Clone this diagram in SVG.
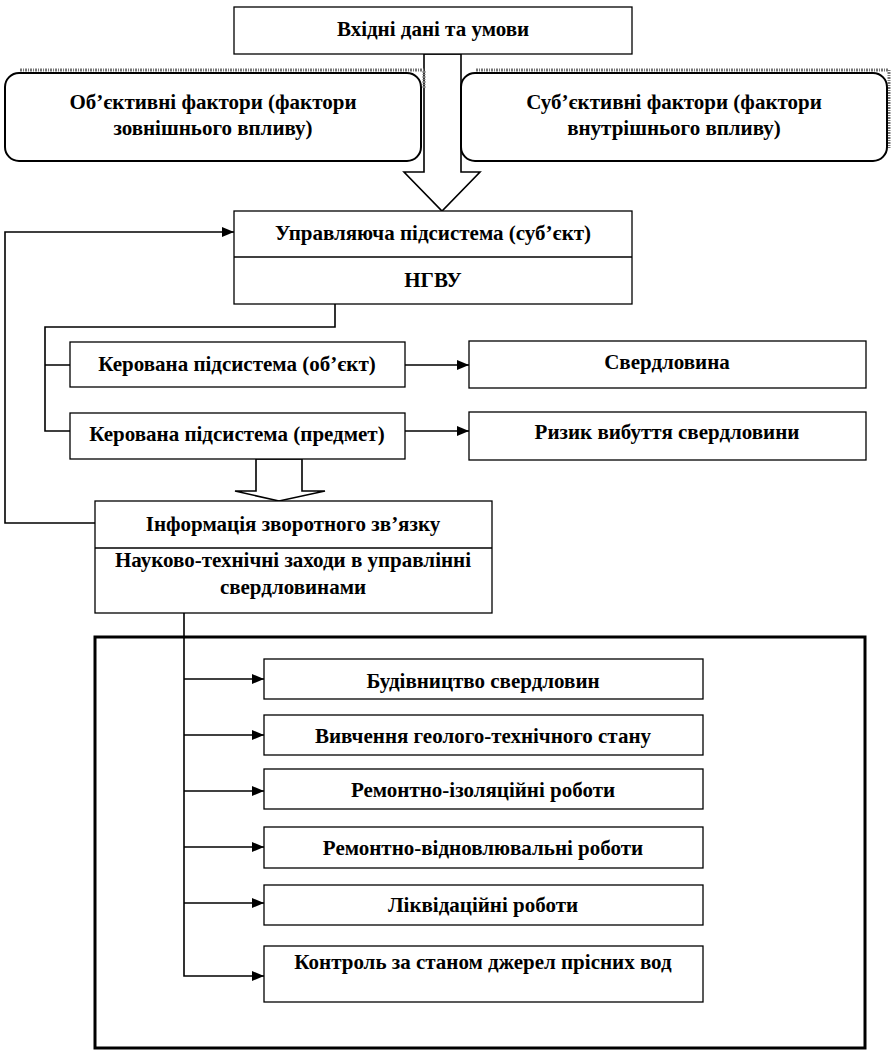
<svg xmlns="http://www.w3.org/2000/svg" width="891" height="1050" viewBox="0 0 891 1050">
<defs>
<marker id="ah" markerWidth="12" markerHeight="10" refX="12" refY="5" orient="auto" markerUnits="userSpaceOnUse">
<path d="M0,0 L12,5 L0,10 Z" fill="#000"/>
</marker>
</defs>
<style>
.box{fill:#fff;stroke:#000;stroke-width:1.3}
.rbox{fill:#fff;stroke:#000;stroke-width:2}
.shadow{fill:none;stroke:#777;stroke-width:3;stroke-dasharray:2 1 1 1}
.ln{fill:none;stroke:#000;stroke-width:1.6}
.frame{fill:none;stroke:#000;stroke-width:3}
.hollow{fill:#fff;stroke:#000;stroke-width:1.6;stroke-linejoin:miter}
text{font-family:"Liberation Serif","Times New Roman",serif;font-size:21px;font-weight:bold;text-anchor:middle;fill:#000}
</style>
<rect width="891" height="1050" fill="#fff"/>

<g id="connectors">
<path class="ln" d="M95,523 H5 V232 H234" marker-end="url(#ah)"/>
<path class="ln" d="M335,304 V327 H45 V431 H70 M45,365 H70"/>
<path class="ln" d="M405,365 H469" marker-end="url(#ah)"/>
<path class="ln" d="M405,431 H469" marker-end="url(#ah)"/>
<path class="ln" d="M184,613 V976 H264" marker-end="url(#ah)"/>
<path class="ln" d="M184,679 H264" marker-end="url(#ah)"/>
<path class="ln" d="M184,735 H264" marker-end="url(#ah)"/>
<path class="ln" d="M184,791 H264" marker-end="url(#ah)"/>
<path class="ln" d="M184,847 H264" marker-end="url(#ah)"/>
<path class="ln" d="M184,903 H264" marker-end="url(#ah)"/>
<polygon class="hollow" points="424,54 461,54 461,172 480,172 442,211 404,172 424,172"/>
<polygon class="hollow" points="256,459 302,459 302,491 325,491 279,501 235,491 256,491"/>
</g>

<g id="n-input">
<rect class="box" x="234" y="7" width="398" height="47"/>
<text x="433" y="36">Вхідні дані та умови</text>
</g>

<g id="n-objective">
<path class="shadow" d="M20,70 H424 V88"/>
<rect class="rbox" x="5" y="73" width="416" height="88" rx="14"/>
<text x="213" y="109">Об’єктивні фактори (фактори</text>
<text x="213" y="135">зовнішнього впливу)</text>
</g>

<g id="n-subjective">
<path class="shadow" d="M476,70 H889 V148"/>
<rect class="rbox" x="461" y="73" width="426" height="88" rx="14"/>
<text x="674" y="109">Суб’єктивні фактори (фактори</text>
<text x="674" y="135">внутрішнього впливу)</text>
</g>

<g id="n-manager">
<rect class="box" x="234" y="211" width="398" height="93"/>
<line class="box" x1="234" y1="257" x2="632" y2="257"/>
<text x="433" y="240">Управляюча підсистема (суб’єкт)</text>
<text x="433" y="287">НГВУ</text>
</g>

<g id="n-object">
<rect class="box" x="70" y="342" width="335" height="45"/>
<text x="237" y="371">Керована підсистема (об’єкт)</text>
</g>

<g id="n-subject">
<rect class="box" x="70" y="413" width="335" height="46"/>
<text x="237" y="441">Керована підсистема (предмет)</text>
</g>

<g id="n-well">
<rect class="box" x="469" y="341" width="397" height="47"/>
<text x="667" y="369">Свердловина</text>
</g>

<g id="n-risk">
<rect class="box" x="469" y="412" width="397" height="48"/>
<text x="667" y="439">Ризик вибуття свердловини</text>
</g>

<g id="n-info">
<rect class="box" x="95" y="501" width="397" height="112"/>
<line class="box" x1="95" y1="548" x2="492" y2="548"/>
<text x="293" y="531">Інформація зворотного зв’язку</text>
<text x="293" y="567">Науково-технічні заходи в управлінні</text>
<text x="293" y="594">свердловинами</text>
</g>

<g id="n-frame">
<rect class="frame" x="95" y="637" width="770" height="411"/>
</g>

<g id="n-m1">
<rect class="box" x="264" y="659" width="439" height="40"/>
<text x="483" y="688">Будівництво свердловин</text>
</g>
<g id="n-m2">
<rect class="box" x="264" y="715" width="439" height="40"/>
<text x="483" y="743">Вивчення геолого-технічного стану</text>
</g>
<g id="n-m3">
<rect class="box" x="264" y="769" width="439" height="40"/>
<text x="483" y="797">Ремонтно-ізоляційні роботи</text>
</g>
<g id="n-m4">
<rect class="box" x="264" y="827" width="439" height="41"/>
<text x="483" y="855">Ремонтно-відновлювальні роботи</text>
</g>
<g id="n-m5">
<rect class="box" x="264" y="885" width="439" height="40"/>
<text x="483" y="912">Ліквідаційні роботи</text>
</g>
<g id="n-m6">
<rect class="box" x="264" y="946" width="439" height="56"/>
<text x="483" y="969">Контроль за станом джерел прісних вод</text>
</g>
</svg>
